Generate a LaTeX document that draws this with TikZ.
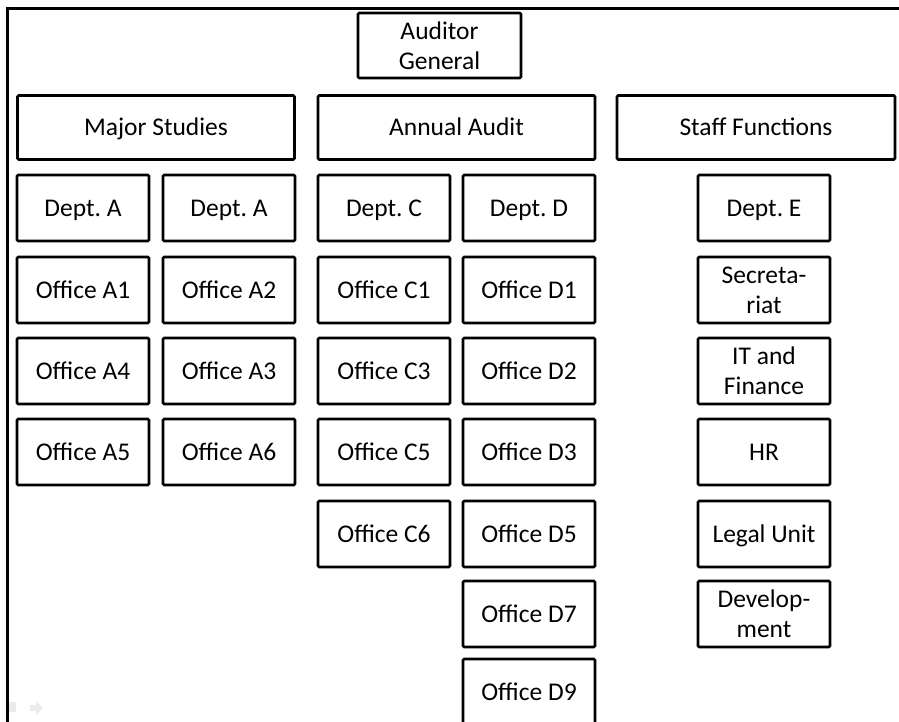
\documentclass[tikz,border=0pt]{standalone}
\usepackage{fontspec}
\setmainfont{Carlito}
\begin{document}
\begin{tikzpicture}[x=1pt,y=-1pt,
  unit/.style={draw, line width=2.6pt, rounded corners=1.2pt,
    minimum width=132pt, minimum height=66pt, inner sep=0pt,
    align=center, font=\fontsize{25.5}{30}\selectfont},
  one/.style={unit, text height=16.4pt, text depth=0pt},
  head/.style={one, minimum width=277pt, minimum height=64pt},
  navicon/.style={fill=black!8, draw=none}]
\useasboundingbox (0,0) rectangle (899,722);
\begin{scope}
\clip (0,0) rectangle (899,722);
% outer frame
\draw[line width=3pt] (7,760) -- (7,9) -- (940,9);

% top of the chart
\node[unit, minimum width=163pt, minimum height=65pt] (ag) at (439.5,45.5) {Auditor\\General};
\node[head] (major)  at (156,127.5) {Major Studies};
\node[head] (annual) at (456.5,127.5) {Annual Audit};
\node[head, minimum width=278pt] (staff) at (756,127.5) {Staff Functions};

% Major Studies, first column
\node[one] (da1) at (83,208) {Dept.\ A};
\node[one] (oa1) at (83,290) {Office A1};
\node[one] (oa4) at (83,371) {Office A4};
\node[one] (oa5) at (83,452) {Office A5};

% Major Studies, second column
\node[one] (da2) at (229,208) {Dept.\ A};
\node[one] (oa2) at (229,290) {Office A2};
\node[one] (oa3) at (229,371) {Office A3};
\node[one] (oa6) at (229,452) {Office A6};

% Annual Audit, Dept. C
\node[one] (dc)  at (384,208) {Dept.\ C};
\node[one] (oc1) at (384,290) {Office C1};
\node[one] (oc3) at (384,371) {Office C3};
\node[one] (oc5) at (384,452) {Office C5};
\node[one] (oc6) at (384,534) {Office C6};

% Annual Audit, Dept. D
\node[one] (dd)  at (529,208) {Dept.\ D};
\node[one] (od1) at (529,290) {Office D1};
\node[one] (od2) at (529,371) {Office D2};
\node[one] (od3) at (529,452) {Office D3};
\node[one] (od5) at (529,534) {Office D5};
\node[one] (od7) at (529,614) {Office D7};
\node[one] (od9) at (529,692) {Office D9};

% Staff Functions
\node[one]  (de)  at (764,208) {Dept.\ E};
\node[unit] (sec) at (764,290) {Secreta-\\riat};
\node[unit] (itf) at (764,371) {IT and\\Finance};
\node[one]  (hr)  at (764,452) {HR};
\node[one]  (leg) at (764,534) {Legal Unit};
\node[unit] (dev) at (764,614) {Develop-\\ment};

% faint navigation marks at the lower left
\fill[navicon] (9,702) rectangle (16,712);
\fill[navicon] (30,705) -- (36,705) -- (36,701) -- (43,708) -- (36,715) -- (36,711) -- (30,711) -- cycle;
\end{scope}
\end{tikzpicture}
\end{document}
